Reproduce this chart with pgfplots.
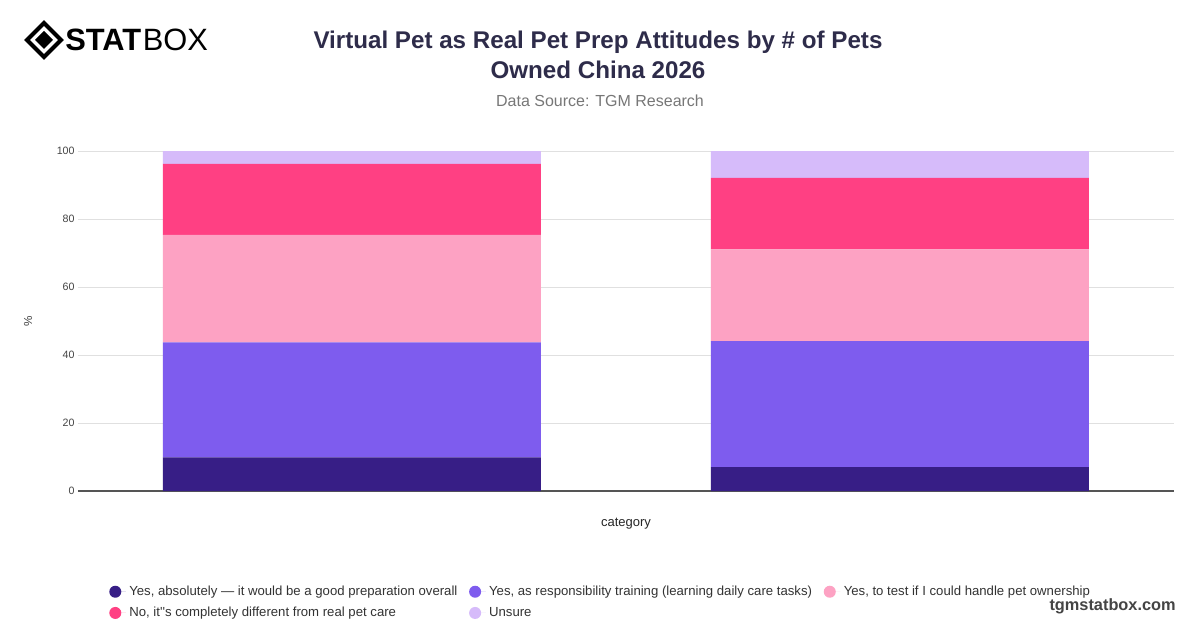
\documentclass[border=0pt]{standalone}
\usepackage{pgfplots}
\pgfplotsset{compat=1.18}
\usepackage{fontspec}
\setmainfont{Liberation Sans}
\definecolor{c1}{HTML}{371E86}
\definecolor{c2}{HTML}{7E5CEE}
\definecolor{c3}{HTML}{FDA2C3}
\definecolor{c4}{HTML}{FF4083}
\definecolor{c5}{HTML}{D6BBFA}
\definecolor{titlecol}{HTML}{2E2C4A}
\definecolor{subcol}{HTML}{777777}
\definecolor{tickcol}{HTML}{444444}
\definecolor{gridcol}{HTML}{E0E0E0}
\definecolor{axcol}{HTML}{555555}
\begin{document}
\begin{tikzpicture}[x=0.6pt,y=0.6pt]
\path[fill=white] (0,0) rectangle (1200,628);
% logo (y measured from bottom: 628 - y_px)
\draw[black,line width=2.4pt,line join=miter] (44,605) -- (61,588) -- (44,571) -- (27,588) -- cycle;
\fill[black] (44,597) -- (53,588) -- (44,579) -- (35,588) -- cycle;
\node[anchor=west,inner sep=0pt,font=\bfseries\fontsize{18.5}{22}\selectfont] (stat) at (65,588) {STAT};
\node[anchor=west,inner sep=0pt,font=\fontsize{18.5}{22}\selectfont] at ([xshift=0.5pt]stat.east) {BOX};
% titles
\node[font=\bfseries\fontsize{14.5}{18}\selectfont,text=titlecol,align=center] at (598,573) {Virtual Pet as Real Pet Prep Attitudes by \# of Pets\\Owned China 2026};
\node[font=\fontsize{9.6}{11}\selectfont,text=subcol] at (600,527) {Data Source: TGM Research};
\node[anchor=east,inner sep=0pt,font=\bfseries\fontsize{9.8}{12}\selectfont,text=axcol!80!black] at (1176,22) {tgmstatbox.com};
\begin{axis}[
  at={(46.8pt,82.2pt)}, anchor=south west,
  width=657.6pt, height=204pt, scale only axis,
  xmin=-0.5, xmax=1.5, ymin=0, ymax=100,
  ybar stacked, bar width=226.8pt,
  xtick=\empty,
  ytick={0,20,40,60,80,100},
  major tick length=0pt,
  ymajorgrids, grid style={color=gridcol, line width=0.6pt},
  axis x line*=bottom, axis y line*=left,
  y axis line style={draw=none},
  x axis line style={draw=axcol, line width=0.9pt, -},
  /pgf/number format/assume math mode=true,
  yticklabel style={font=\fontsize{6.4}{8}\selectfont, text=tickcol, xshift=1.5pt},
  xlabel={category},
  xlabel style={at={(axis description cs:0.5,0)}, anchor=center, yshift=-19.8pt, font=\fontsize{7.8}{9}\selectfont, text=black!85},
  ylabel={\%},
  ylabel style={at={(axis description cs:-0.0456,0.5)}, anchor=center, font=\fontsize{7}{8}\selectfont, text=tickcol},
  legend style={at={(0.0237,-0.258)}, anchor=north west, draw=none, fill=none,
    font=\fontsize{7.9}{9}\selectfont, text=black!80, row sep=1.5pt,
    /tikz/every even column/.append style={column sep=5pt}},
  legend columns=3,
  legend cell align=left,
  legend image code/.code={\fill[#1,draw=none] (3.6pt,0pt) circle (3.6pt); \path (0pt,0pt) -- (10pt,0pt);},
]
\addplot[fill=c1,draw=none] coordinates {(0,9.9) (1,7.0)};
\addplot[fill=c2,draw=none] coordinates {(0,33.8) (1,37.1)};
\addplot[fill=c3,draw=none] coordinates {(0,31.6) (1,27.0)};
\addplot[fill=c4,draw=none] coordinates {(0,20.9) (1,21.0)};
\addplot[fill=c5,draw=none] coordinates {(0,3.8) (1,7.9)};
\legend{{Yes, absolutely — it would be a good preparation overall},{Yes, as responsibility training (learning daily care tasks)},{Yes, to test if I could handle pet ownership},{No, it\textquotesingle\textquotesingle s completely different from real pet care},{Unsure}}
\end{axis}
\end{tikzpicture}
\end{document}
